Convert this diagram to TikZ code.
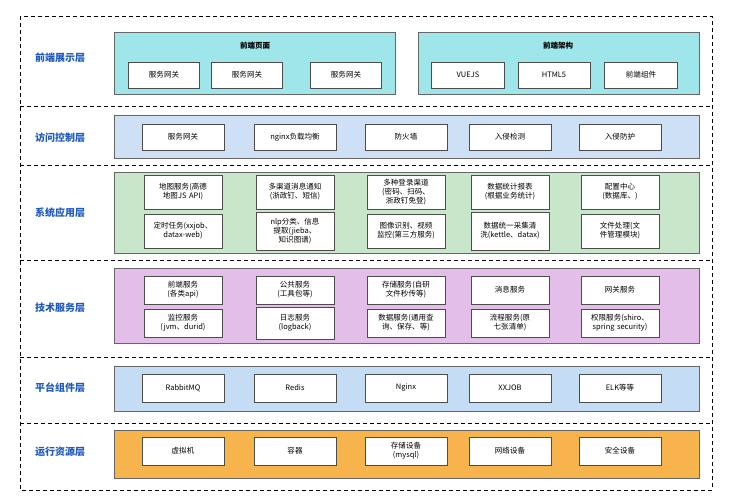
\documentclass[tikz,border=0pt]{standalone}
\usepackage{fontspec}
\setmainfont{Noto Sans CJK SC}
\XeTeXlinebreaklocale "zh"
\XeTeXlinebreakskip=0pt plus 0.05pt
\definecolor{laycol}{RGB}{30,90,190}
\begin{document}
\begin{tikzpicture}[x=1pt,y=-1pt,
 item/.style={draw=black!70,fill=white,line width=0.6pt,minimum width=78,minimum height=26,text width=60,align=center,font=\fontsize{7.5}{9}\selectfont,inner sep=1pt},
 band/.style={draw=black!60,line width=0.6pt},
 lay/.style={text=laycol,font=\bfseries\fontsize{10}{11}\selectfont},
 sep/.style={dashed,line width=0.9pt,dash pattern=on 4pt off 3pt}]
\useasboundingbox (0,0) rectangle (732,500);
\draw[sep] (20,16) rectangle (712,490);
\foreach \y in {106,165,260,357,423} \draw[sep] (20,\y)--(712,\y);
\node[lay] (l1) at (60,58) {前端展示层};
\node[lay] (l2) at (60,138) {访问控制层};
\node[lay] (l3) at (60,213) {系统应用层};
\node[lay] (l4) at (60,308) {技术服务层};
\node[lay] (l5) at (60,388) {平台组件层};
\node[lay] (l6) at (60,452) {运行资源层};
% front
\filldraw[band,fill={rgb,255:red,158;green,230;blue,234}] (114,32) rectangle (395,94);
\filldraw[band,fill={rgb,255:red,158;green,230;blue,234}] (418,32) rectangle (699,94);
\node[font=\bfseries\fontsize{7.5}{8}\selectfont] (h1) at (255,46) {前端页面};
\node[font=\bfseries\fontsize{7.5}{8}\selectfont] (h2) at (558,46) {前端架构};
\node[item,minimum width=71] (f1) at (164,75) {服务网关};
\node[item,minimum width=71] (f2) at (247,75) {服务网关};
\node[item,minimum width=71] (f3) at (346,75) {服务网关};
\node[item,minimum width=73] (f4) at (468,75) {VUEJS};
\node[item,minimum width=72] (f5) at (554,75) {HTML5};
\node[item,minimum width=73] (f6) at (641,75) {前端组件};
% access
\filldraw[band,fill={rgb,255:red,205;green,224;blue,246}] (114,115) rectangle (699,158);
\foreach \x/\t [count=\i] in {183/服务网关,295/nginx负载均衡,406/防火墙,510/入侵检测,620/入侵防护}
 \node[item,minimum width=82,text width=74] (a\i) at (\x,137) {\t};
% system
\filldraw[band,fill={rgb,255:red,200;green,230;blue,201}] (114,172) rectangle (699,253);
\node[item,minimum height=34] (s1) at (183,192) {地图服务(高德地图JS API)};
\node[item,minimum height=34] (s2) at (295,192) {多渠道消息通知(浙政钉、短信)};
\node[item,minimum height=34] (s3) at (406,192) {多种登录渠道(密码、扫码、浙政钉免登)};
\node[item,minimum height=34] (s4) at (510,192) {数据统计报表(根据业务统计)};
\node[item,minimum height=34] (s5) at (620,192) {配置中心(数据库、)};
\node[item,minimum height=34] (s6) at (183,231) {定时任务(xxjob、datax-web)};
\node[item,minimum height=38] (s7) at (295,231) {nlp分类、信息提取(jieba、知识图谱)};
\node[item,minimum height=34] (s8) at (406,231) {图像识别、视频监控(第三方服务)};
\node[item,minimum height=38] (s9) at (510,231) {数据统一采集清洗(kettle、datax)};
\node[item,minimum height=34] (s10) at (620,231) {文件处理(文件管理模块)};
% tech
\filldraw[band,fill={rgb,255:red,226;green,190;blue,232}] (114,268) rectangle (699,343);
\node[item,minimum height=28] (t1) at (183,290) {前端服务(各类api)};
\node[item,minimum height=28] (t2) at (295,290) {公共服务(工具包等)};
\node[item,minimum height=28] (t3) at (406,290) {存储服务(自研文件秒传等)};
\node[item,minimum height=28] (t4) at (510,290) {消息服务};
\node[item,minimum height=28] (t5) at (620,290) {网关服务};
\node[item,minimum height=28] (t6) at (183,323) {监控服务(jvm、durid)};
\node[item,minimum height=32] (t7) at (295,323) {日志服务\\(logback)};
\node[item,minimum height=28] (t8) at (406,323) {数据服务(通用查询、保存、等)};
\node[item,minimum height=28] (t9) at (510,323) {流程服务(原七张清单)};
\node[item,minimum height=28,text width=76] (t10) at (620,323) {权限服务(shiro、spring security)};
% platform
\filldraw[band,fill={rgb,255:red,197;green,221;blue,244}] (114,366) rectangle (699,411);
\foreach \x/\t [count=\i] in {183/RabbitMQ,295/Redis,406/Nginx,510/XXJOB,620/ELK等等}
 \node[item,minimum width=82,minimum height=28] (p\i) at (\x,388) {\t};
% resource
\filldraw[band,fill={rgb,255:red,248;green,180;blue,76}] (114,430) rectangle (699,478);
\foreach \x/\t [count=\i] in {183/虚拟机,295/容器,406/{存储设备\\(mysql)},510/网络设备,620/安全设备}
 \node[item,minimum width=82,minimum height=28] (r\i) at (\x,451) {\t};
\end{tikzpicture}
\end{document}
